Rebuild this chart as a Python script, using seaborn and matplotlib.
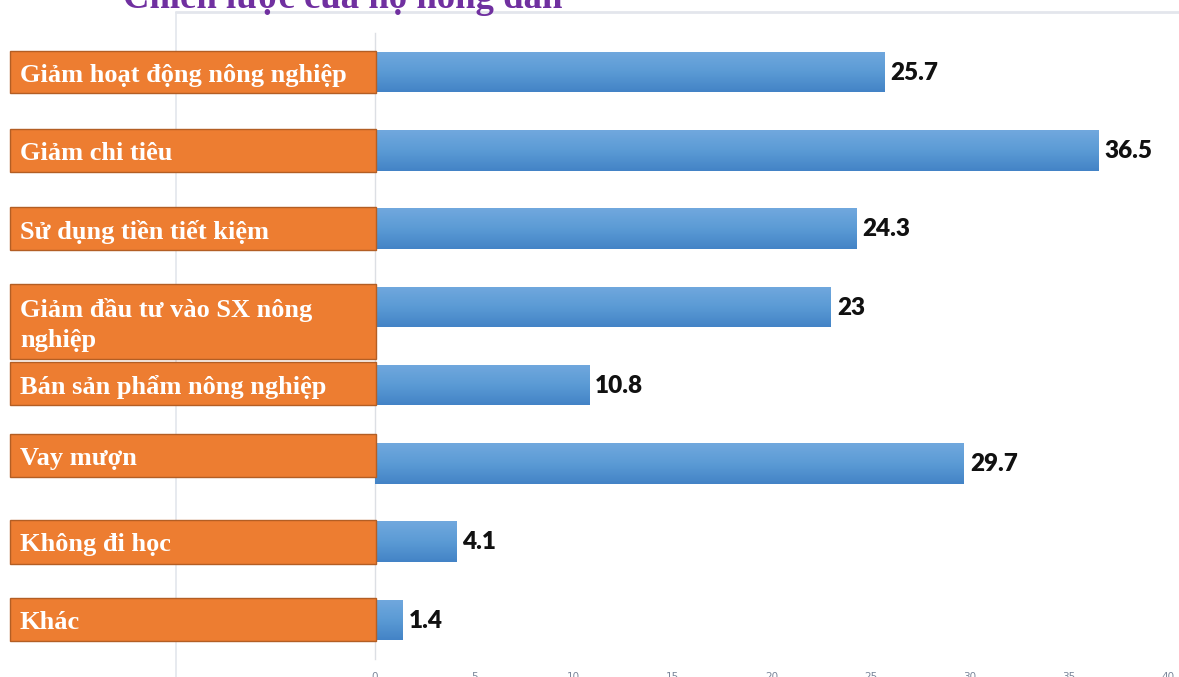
import numpy as np
import pandas as pd
import matplotlib
matplotlib.use("Agg")
import matplotlib.pyplot as plt
from matplotlib.patches import Rectangle
from matplotlib.lines import Line2D
from matplotlib.colors import LinearSegmentedColormap
import seaborn as sns

# Data
categories = [
    "Giảm hoạt động nông nghiệp",
    "Giảm chi tiêu",
    "Sử dụng tiền tiết kiệm",
    "Giảm đầu tư vào SX nông\nnghiệp",
    "Bán sản phẩm nông nghiệp",
    "Vay mượn",
    "Không đi học",
    "Khác",
]
values = [25.7, 36.5, 24.3, 23, 10.8, 29.7, 4.1, 1.4]
value_labels = ["25.7", "36.5", "24.3", "23", "10.8", "29.7", "4.1", "1.4"]
x_ticks = [0, 5, 10, 15, 20, 25, 30, 35, 40]
title = "Chiến lược của hộ nông dân"

# Vertical extent of each orange label box, relative to its bar centre
box_spans = [(-0.27, 0.27), (-0.27, 0.28), (-0.27, 0.27), (-0.29, 0.67),
             (-0.29, 0.26), (-0.38, 0.17), (-0.28, 0.28), (-0.28, 0.27)]

W, H = 1179, 677
sns.set_theme(style="white")
fig = plt.figure(figsize=(W / 100, H / 100), dpi=100)
fig.patch.set_facecolor("white")

ax_left, ax_right, ax_top, ax_bottom = 375, 1168, 33, 659
ax = fig.add_axes([ax_left / W, 1 - ax_bottom / H,
                   (ax_right - ax_left) / W, (ax_bottom - ax_top) / H])
ax.set_zorder(1)
ax.patch.set_alpha(0)

df = pd.DataFrame({"category": categories, "value": values})
sns.barplot(data=df, x="value", y="category", orient="h", color="#5B9BD5",
            width=0.52, ax=ax, zorder=2)

ax.set_xlim(0, 40)
ax.set_ylim(len(categories) - 0.5, -0.5)
ax.set_xticks(x_ticks)
ax.set_xticklabels([str(t) for t in x_ticks], color="#7A869A",
                   fontsize=7.5, family=["Liberation Sans Narrow", "DejaVu Sans"])
ax.tick_params(axis="x", length=0, pad=9)
ax.tick_params(axis="y", left=False, labelleft=False)
ax.set_xlabel("")
ax.set_ylabel("")
for side in ["top", "right", "bottom"]:
    ax.spines[side].set_visible(False)
ax.spines["left"].set_color("#DCDFE4")
ax.spines["left"].set_linewidth(1.0)
ax.grid(False)

# Vertical gradient fill on each bar
grad_cmap = LinearSegmentedColormap.from_list("bar", ["#71A8DE", "#5B9BD5", "#4383C6"])
grad = np.linspace(0, 1, 256).reshape(-1, 1)
for patch in ax.patches:
    x0, y0 = patch.get_x(), patch.get_y()
    w, h = patch.get_width(), patch.get_height()
    im = ax.imshow(grad, cmap=grad_cmap, aspect="auto",
                   extent=(x0, x0 + w, y0 + h, y0), origin="upper", zorder=3)
    im.set_clip_path(patch)
    patch.set_edgecolor("none")
ax.set_xlim(0, 40)
ax.set_ylim(len(categories) - 0.5, -0.5)

# Value labels
for i, (v, lab) in enumerate(zip(values, value_labels)):
    ax.text(v + 0.3, i + 0.01, lab, va="center", ha="left", fontsize=17.5,
            fontweight="heavy", color="#111111", family=["Lato", "DejaVu Sans"],
            zorder=4)

# Orange category boxes on the left
trans = ax.get_yaxis_transform()
box_x0 = (10 - ax_left) / (ax_right - ax_left)
box_x1 = (376 - ax_left) / (ax_right - ax_left)
text_x = (20 - ax_left) / (ax_right - ax_left)
for i, (cat, (lo, hi)) in enumerate(zip(categories, box_spans)):
    rect = Rectangle((box_x0, i + lo), box_x1 - box_x0, hi - lo, transform=trans,
                     facecolor="#ED7D31", edgecolor="#B35E24", linewidth=1.0,
                     clip_on=False, zorder=5)
    ax.add_patch(rect)
    ax.text(text_x, i + (lo + hi) / 2 + 0.04, cat, transform=trans, ha="left",
            va="center", color="white", fontsize=19, fontweight="bold",
            family=["Liberation Serif", "DejaVu Serif"], linespacing=1.35,
            clip_on=False, zorder=6)

# Plot-area frame lines, kept behind the label boxes
fig.add_artist(Line2D([176 / W, 176 / W], [0, 1 - 12 / H], color="#E3E6EC",
                      lw=1.2, transform=fig.transFigure, zorder=0))
fig.add_artist(Line2D([176 / W, 1], [1 - 12 / H, 1 - 12 / H], color="#E3E6EC",
                      lw=2.0, transform=fig.transFigure, zorder=0))

# Title
fig.text(123 / W, 1 - 8 / H, title, ha="left", va="baseline", color="#7030A0",
         fontsize=26.5, fontweight="bold",
         family=["Liberation Serif", "DejaVu Serif"], zorder=2)

fig.savefig("out.png", dpi=100, facecolor="white")
